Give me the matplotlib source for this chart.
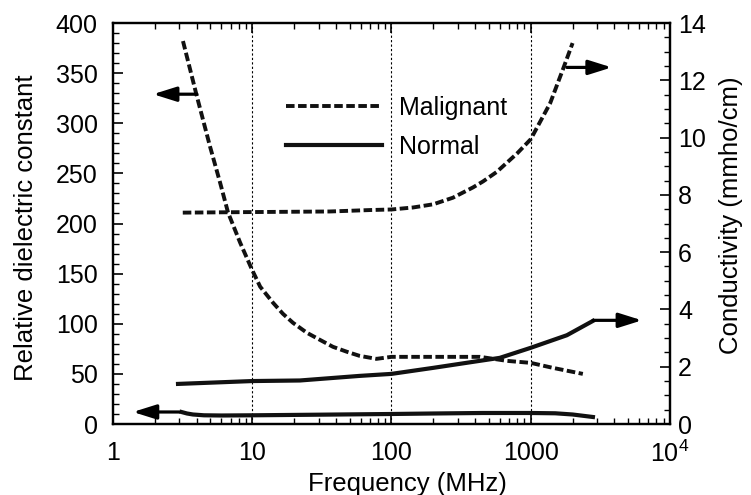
import matplotlib
matplotlib.use("Agg")
import matplotlib.pyplot as plt
from matplotlib.ticker import FixedLocator, MultipleLocator, FuncFormatter, LogLocator, NullFormatter

plt.rcParams['font.family'] = ['Liberation Sans', 'DejaVu Sans']
plt.rcParams['mathtext.fontset'] = 'custom'
plt.rcParams['mathtext.rm'] = 'Liberation Sans'

# malignant: relative dielectric constant
f_mal_eps = [3.18, 4.0, 4.97, 5.87, 6.7, 8.18, 9.96, 11.4, 14.1, 16.6, 19.6, 24.7, 30.6, 38, 48, 59, 78,
             100, 200, 433, 675, 1000, 1445, 2370]
mal_eps = [382, 327, 277, 241, 211, 181, 154, 137, 121, 110, 101, 91, 84, 77, 72, 68, 65,
           67, 67, 67, 63, 61, 56, 50]

# malignant: conductivity (mmho/cm)
f_mal_sig = [3.17, 10, 36, 70, 100, 143, 199, 276, 385, 455, 570, 800, 1000, 1380, 1710, 2000]
mal_sig = [7.38, 7.40, 7.42, 7.47, 7.49, 7.56, 7.67, 7.9, 8.26, 8.47, 8.8, 9.45, 9.94, 11.2, 12.4, 13.3]

# normal: relative dielectric constant
f_nor_eps = [3.1, 3.4, 3.75, 4.5, 6, 10, 30, 100, 200, 450, 1000, 1500, 2000, 2800]
nor_eps = [12, 10.5, 9.5, 8.7, 8.5, 8.7, 9.3, 10, 10.5, 11, 11, 10.7, 9.5, 7]

# normal: conductivity (mmho/cm)
f_nor_sig = [2.93, 10, 22, 59, 100, 199, 385, 600, 1000, 1820, 2800]
nor_sig = [1.40, 1.50, 1.52, 1.68, 1.75, 1.96, 2.17, 2.31, 2.66, 3.1, 3.6]

# arrows: (start, end) in data coords
arrows_left = [((4.0, 329), (1.94, 329)), ((2.98, 12), (1.39, 12))]
arrows_right = [((1820, 12.45), (3820, 12.45)), ((2800, 3.62), (6300, 3.62))]

fig = plt.figure(figsize=(7.51, 4.95), dpi=100)
ax = fig.add_axes([0.1505, 0.1434, 0.7415, 0.8101])
ax2 = ax.twinx()

dash = (0, (2.2, 0.9))
l_mal, = ax.plot(f_mal_eps, mal_eps, color='#111111', lw=2.8, linestyle=dash, dash_capstyle='butt')
l_nor, = ax.plot(f_nor_eps, nor_eps, color='#111111', lw=3.0)
ax2.plot(f_mal_sig, mal_sig, color='#111111', lw=2.8, linestyle=dash, dash_capstyle='butt')
ax2.plot(f_nor_sig, nor_sig, color='#111111', lw=3.0)

for xv in [10, 100, 1000]:
    ax.axvline(xv, color='black', lw=0.8, linestyle=(0, (2, 2)), zorder=0)

ap = dict(arrowstyle='-|>,head_length=0.7,head_width=0.22', lw=2.3, color='black',
          shrinkA=0, shrinkB=0, mutation_scale=20)
for (s, e) in arrows_left:
    ax.annotate('', xy=e, xytext=s, arrowprops=ap, annotation_clip=False)
for (s, e) in arrows_right:
    ax2.annotate('', xy=e, xytext=s, arrowprops=ap, annotation_clip=False)

ax.set_xscale('log')
ax.set_xlim(1, 1e4)
ax.set_ylim(0, 400)
ax2.set_ylim(0, 14)

ax.xaxis.set_major_locator(FixedLocator([1, 10, 100, 1000, 10000]))
ax.xaxis.set_minor_locator(LogLocator(base=10, subs=range(2, 10)))
ax.xaxis.set_minor_formatter(NullFormatter())
xlabels = {1: '1', 10: '10', 100: '100', 1000: '1000', 10000: r'$\mathregular{10^4}$'}
ax.xaxis.set_major_formatter(FuncFormatter(lambda v, p: xlabels.get(int(round(v)), '')))

ax.yaxis.set_major_locator(MultipleLocator(50))
ax.yaxis.set_minor_locator(MultipleLocator(10))
ax2.yaxis.set_major_locator(MultipleLocator(2))
ax2.yaxis.set_minor_locator(MultipleLocator(0.5))

fs = 18
fl = 18.5
ax.tick_params(axis='x', which='both', direction='in', top=True, labelsize=fs, pad=12)
ax.tick_params(axis='y', which='both', direction='in', labelsize=fs, pad=11)
ax2.tick_params(axis='y', which='both', direction='in', labelsize=fs, pad=6)
for a in (ax, ax2):
    a.tick_params(which='major', length=7, width=1.2)
    a.tick_params(which='minor', length=4.5, width=1.0)
    for sp in a.spines.values():
        sp.set_linewidth(1.6)

ax.set_xlabel('Frequency (MHz)', fontsize=fl)
ax.set_ylabel('Relative dielectric constant', fontsize=fl)
ax2.set_ylabel('Conductivity (mmho/cm)', fontsize=fl)
ax.xaxis.set_label_coords(0.528, -0.12)
ax.yaxis.set_label_coords(-0.135, 0.49)
ax2.yaxis.set_label_coords(1.088, 0.52)

ax.legend([l_mal, l_nor], ['Malignant', 'Normal'], frameon=False, fontsize=18,
          handlelength=3.85, handletextpad=0.68, labelspacing=0.62,
          loc='upper left', bbox_to_anchor=(0.27, 0.875))

fig.savefig('out.png', dpi=100)
